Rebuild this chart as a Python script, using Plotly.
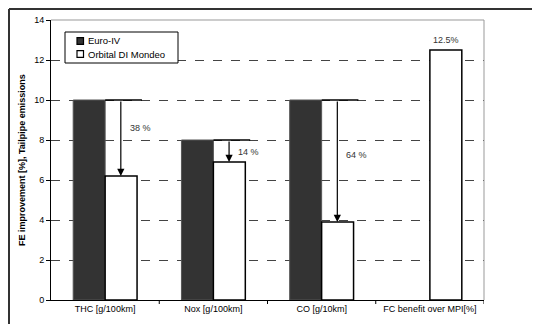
import plotly.graph_objects as go

categories = ["THC [g/100km]", "Nox [g/100km]", "CO [g/10km]", "FC benefit over MPI[%]"]
series_names = ["Euro-IV", "Orbital DI Mondeo"]
euro_iv = [10, 8, 10, None]
orbital = [6.2, 6.9, 3.9, 12.5]
reduction_labels = ["38 %", "14 %", "64 %"]
reduction_label_y = [8.6, 7.4, 7.25]
fc_label = "12.5%"
y_ticks = [0, 2, 4, 6, 8, 10, 12, 14]

FONT = "Liberation Sans, Arial, sans-serif"
W, H = 540, 324
OFF = 8  # page body margin offset
# plot area in page pixels: x 51..484, y 20..300
L, T = 51 - OFF, 20 - OFF
R, B = W - (484 - OFF), H - (300 - OFF)
pw, ph = W - L - R, H - T - B


def px(xpage):
    return (xpage - OFF - L) / pw


def py(ypage):
    return (H - B - (ypage - OFF)) / ph


fig = go.Figure()
fig.add_trace(go.Bar(x=list(range(4)), y=euro_iv, name=series_names[0],
                     marker=dict(color="#333333", line=dict(color="#555555", width=1))))
fig.add_trace(go.Bar(x=list(range(4)), y=orbital, name=series_names[1],
                     marker=dict(color="white", line=dict(color="black", width=1.5))))

# reference lines at Euro-IV level and arrows down to Orbital values
arrow_off = 0.145
for i in range(3):
    fig.add_shape(type="line", xref="x", yref="y", x0=i, x1=i + 0.34,
                  y0=euro_iv[i], y1=euro_iv[i], line=dict(color="black", width=1.5))
    fig.add_annotation(x=i + arrow_off, y=orbital[i], ax=i + arrow_off, ay=euro_iv[i],
                       xref="x", yref="y", axref="x", ayref="y", text="",
                       showarrow=True, arrowhead=2, arrowsize=1.2, arrowwidth=1.2,
                       arrowcolor="black")
    fig.add_annotation(x=i + 0.21, y=reduction_label_y[i], xref="x", yref="y",
                       text=reduction_labels[i], showarrow=False, xanchor="left",
                       font=dict(family=FONT, size=9, color="#333333"))

fig.add_annotation(x=3 + 0.148, y=13.0, xref="x", yref="y", text=fc_label,
                   showarrow=False, font=dict(family=FONT, size=9, color="#333333"))

# y-axis title
fig.add_annotation(x=px(22), y=0.5, xref="paper", yref="paper", xanchor="center",
                   yanchor="middle",
                   text="<b>FE improvement [%], Tailpipe emissions</b>", textangle=-90,
                   showarrow=False, font=dict(family=FONT, size=9, color="black"))

# plot-area border (top/right, gray)
fig.add_shape(type="line", xref="paper", yref="paper", x0=0, x1=1, y0=1, y1=1,
              line=dict(color="#999999", width=1))
fig.add_shape(type="line", xref="paper", yref="paper", x0=1, x1=1, y0=0, y1=1,
              line=dict(color="#999999", width=1))

# outer frame (top and left visible)
fx, fy = px(OFF + 1), py(OFF + 1)
fig.add_shape(type="line", xref="paper", yref="paper", x0=fx, x1=px(560),
              y0=fy, y1=fy, line=dict(color="#333333", width=2))
fig.add_shape(type="line", xref="paper", yref="paper", x0=fx, x1=fx,
              y0=fy, y1=py(340), line=dict(color="#333333", width=2))

# legend box
fig.add_shape(type="rect", xref="paper", yref="paper", x0=px(65), x1=px(178),
              y0=py(63), y1=py(32), line=dict(color="black", width=1), fillcolor="white")
legend_y = [41, 54]
legend_fill = ["#333333", "white"]
for name, yy, fc in zip(series_names, legend_y, legend_fill):
    fig.add_shape(type="rect", xref="paper", yref="paper", x0=px(77), x1=px(83.5),
                  y0=py(yy + 3.3), y1=py(yy - 3.3), fillcolor=fc,
                  line=dict(color="black", width=1.2))
    fig.add_annotation(x=px(85.5), y=py(yy), xref="paper", yref="paper", text=name,
                       showarrow=False, xanchor="left", yanchor="middle",
                       font=dict(family=FONT, size=9.5, color="black"))

fig.update_layout(
    width=W, height=H,
    margin=dict(l=L, r=R, t=T, b=B),
    paper_bgcolor="white", plot_bgcolor="white",
    barmode="group", bargap=0.41, bargroupgap=0,
    font=dict(family=FONT, size=9, color="black"),
    showlegend=False,
    xaxis=dict(type="linear", range=[-0.5, 3.5], tickvals=list(range(4)), ticktext=categories,
               showline=True, linecolor="black", linewidth=1, ticks="",
               showgrid=False, zeroline=False, tickfont=dict(size=9), automargin=False),
    yaxis=dict(range=[0, 14], tickvals=y_ticks, showline=True, linecolor="black",
               linewidth=1, ticks="outside", ticklen=4, tickcolor="black",
               showgrid=True, gridcolor="#444444", griddash="dash", gridwidth=1,
               zeroline=False, tickfont=dict(size=9), automargin=False),
)

# category boundary ticks on the x axis
for b in [0.5, 1.5, 2.5, 3.5]:
    fig.add_shape(type="line", xref="x", yref="paper", x0=b, x1=b, y0=0, y1=-4 / ph,
                  line=dict(color="black", width=1))

fig.write_html("out.html")
